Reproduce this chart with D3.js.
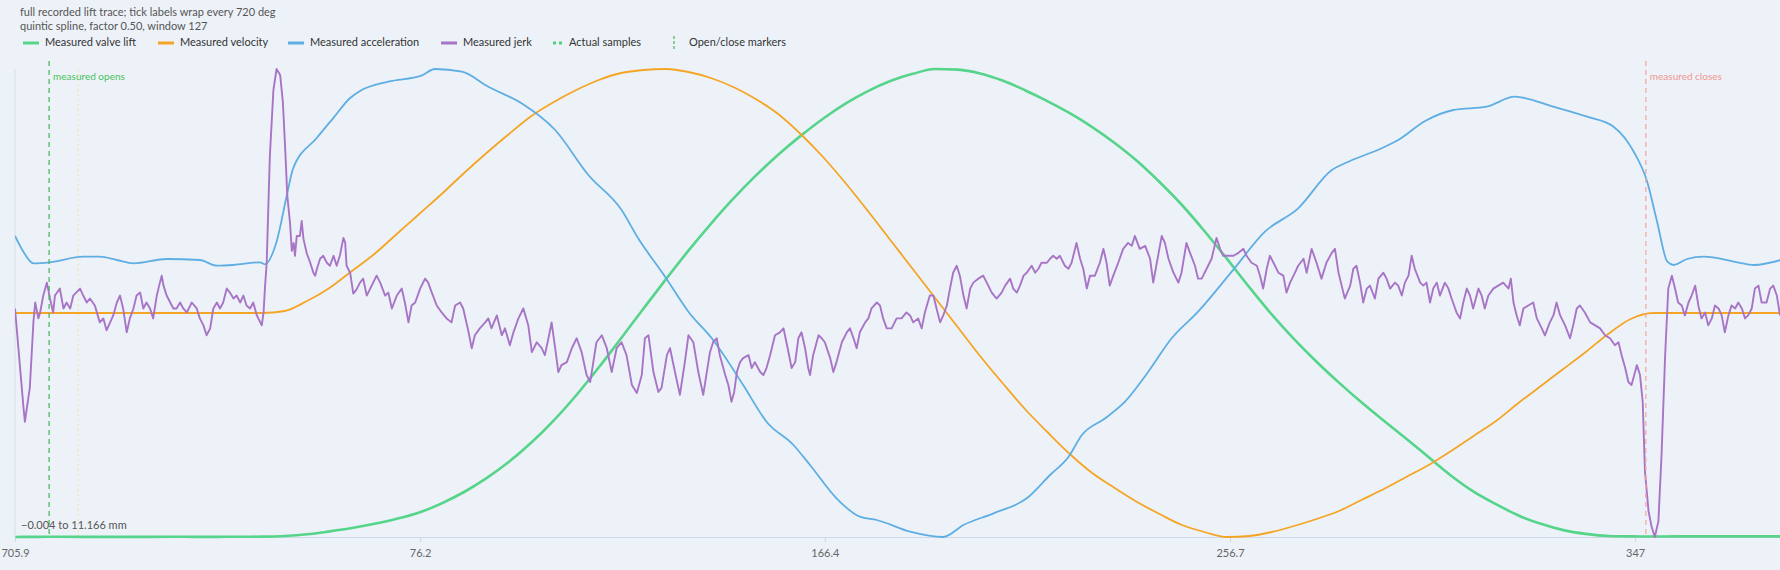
<!DOCTYPE html>
<html><head><meta charset="utf-8">
<script src="https://cdn.jsdelivr.net/npm/d3@7/dist/d3.min.js"></script>
<style>
html,body{margin:0;padding:0;background:#edf2f9;overflow:hidden;}
svg{display:block;font-family:Lato,"Segoe UI","Noto Sans",sans-serif;}
</style></head><body>
<svg id="chart" width="1780" height="570"></svg>
<script>
// ---------- data ----------
const titleLines = ["full recorded lift trace; tick labels wrap every 720 deg", "quintic spline, factor 0.50, window 127"];
const seriesNames = ["Measured valve lift", "Measured velocity", "Measured acceleration", "Measured jerk"];
const tickDeg = [705.9, 796.2, 886.4, 976.7, 1067.0];
const tickLabels = ["705.9", "76.2", "166.4", "256.7", "347"];
const openDeg = 713.5, closeDeg = 1069.4, refDeg = 720;
const xDomain = [705.9, 1099.3];

// lift (mm) and velocity on a 5-deg grid starting at 706
const gridStart = 706, gridStep = 5;
const liftMm = [
 -0.004,0.000,0.001,0.000,0.000,-0.002,0.000,0.001,0.000,0.000,
 0.002,0.005,0.02,0.06,0.13,0.21,0.31,0.43,0.58,0.80,
 1.07,1.40,1.79,2.25,2.78,3.38,4.04,4.74,5.45,6.15,
 6.83,7.47,8.07,8.62,9.12,9.57,9.98,10.34,10.64,10.88,
 11.05,11.166,11.15,11.06,10.89,10.66,10.40,10.11,9.78,9.40,
 8.97,8.47,7.92,7.30,6.64,5.96,5.31,4.72,4.18,3.68,
 3.21,2.77,2.34,1.90,1.46,1.08,0.78,0.51,0.31,0.16,
 0.07,0.02,0.01,0.008,0.01,0.012,0.01,0.012,0.01,0.01];
const velocity = [
 0,0,0,0,0,0,0,0,0,0,
 0,0,0.2,1.2,2.5,4.2,5.9,7.9,9.9,11.9,
 14.0,16.0,17.9,19.7,21.1,22.3,23.3,24.0,24.3,24.4,
 24.1,23.5,22.6,21.4,19.9,17.9,15.6,13.0,10.2,7.3,
 4.4,1.5,-1.4,-4.3,-7.0,-9.6,-11.9,-14.1,-16.0,-17.5,
 -18.9,-20.1,-21.2,-21.9,-22.4,-22.3,-21.9,-21.3,-20.6,-19.8,
 -18.7,-17.6,-16.4,-15.2,-13.8,-12.3,-10.8,-9.0,-7.3,-5.6,
 -3.9,-2.1,-0.6,0,0,0,0,0,0,0];

// acceleration [deg, value]
const accelSamples = [
 [705.9,2.8],[707.8,1.2],[710.0,0.07],[713.7,0.17],[721.1,0.73],[724.8,0.73],[728.6,0.4],[732.3,0.07],
 [739.7,0.5],[747.1,0.4],[750.9,-0.17],[754.6,-0.1],[760.5,0.17],[761.6,-0.03],[764.2,2.23],[766.5,6.9],
 [767.9,9.57],[773.1,12.57],[776.8,14.57],[780.6,16.6],[782.8,17.3],[789.1,18.23],[796.5,18.83],[799.5,19.5],
 [805.5,19.23],[811.4,17.73],[818.8,16.07],[826.3,13.4],[833.7,8.9],[841.1,5.4],[844.8,2.57],[850.8,-1.27],
 [856.0,-4.77],[861.5,-7.6],[868.2,-12.1],[873.4,-15.77],[879.4,-18.1],[883.1,-20.1],[889.0,-23.43],[894.2,-25.27],
 [898.0,-25.6],[905.4,-26.77],[912.8,-27.3],[917.3,-26.1],[924.0,-24.93],[931.4,-23.43],[936.6,-21.1],[940.7,-19.3],
 [943.7,-17.1],[948.9,-15.43],[953.3,-13.77],[958.5,-10.77],[963.7,-7.43],[969.6,-4.77],[977.1,-0.77],[984.5,3.23],
 [991.9,5.57],[999.4,9.4],[1003.1,10.23],[1010.5,11.57],[1014.2,12.4],[1020.2,14.3],[1026.5,15.4],[1033.9,15.73],
 [1040.2,16.73],[1048.8,15.73],[1056.3,14.73],[1062.2,13.73],[1066.7,11.23],[1069.7,8.23],[1071.9,4.23],[1074.2,0.23],
 [1075.6,-0.1],[1078.6,0.5],[1082.3,0.73],[1089.8,0.17],[1093.5,-0.1],[1099.5,0.4]];

// jerk [deg, value]
const jerkSamples = [
 [705.9,-0.3],[707.8,-10.3],[708.1,-11.7],[709.2,-8.3],[710.0,-1.7],[710.4,0.3],[711.1,-1.3],[711.5,-0.7],
 [712.2,1.0],[713.0,2.3],[713.7,0.7],[714.4,-0.7],[714.8,1.0],[715.9,1.7],[716.7,-0.3],[717.4,0.3],
 [718.2,-0.3],[718.9,1.0],[720.4,1.7],[721.1,1.0],[721.9,0.3],[722.6,0.7],[723.7,0.0],[724.8,-1.7],
 [725.6,-1.3],[726.3,-2.5],[727.1,-1.7],[727.8,-1.0],[728.6,0.3],[729.3,1.0],[730.0,-0.3],[730.8,-2.7],
 [731.5,-1.3],[732.3,-0.3],[733.0,1.0],[733.8,1.3],[734.5,-0.3],[735.2,0.3],[736.0,-0.3],[736.7,-1.3],
 [737.5,1.0],[738.2,2.3],[738.6,3.0],[739.0,2.0],[739.7,1.0],[740.5,0.3],[741.2,-0.3],[741.9,-0.3],
 [742.7,0.3],[743.4,-0.3],[744.2,-0.7],[745.3,0.3],[746.4,-0.3],[747.1,-1.3],[747.9,-2.0],[748.6,-3.0],
 [749.4,-2.3],[750.1,-0.3],[750.9,0.3],[751.6,-0.3],[752.3,0.3],[753.1,1.7],[753.8,1.3],[754.6,0.7],
 [755.3,1.0],[756.1,0.3],[756.8,1.0],[757.5,0.0],[758.3,-0.3],[759.0,0.3],[759.8,-1.0],[760.9,-2.0],
 [761.3,-0.7],[761.6,1.7],[762.0,4.3],[762.7,15.0],[763.5,21.7],[764.2,23.8],[765.0,23.2],[765.6,20.5],
 [766.1,16.0],[766.6,11.0],[767.2,8.3],[767.6,5.5],[768.0,6.3],[768.3,5.0],[768.7,7.0],[769.4,7.0],
 [769.8,8.5],[770.2,6.7],[770.9,5.3],[771.7,4.3],[772.4,3.3],[772.8,3.0],[773.2,3.7],[773.9,4.7],
 [774.6,5.0],[775.4,4.3],[776.1,4.0],[776.9,5.0],[777.6,4.0],[778.3,5.0],[779.1,6.8],[779.5,6.3],
 [779.8,4.0],[780.6,3.3],[781.3,1.2],[782.0,1.6],[782.8,2.3],[783.5,2.7],[784.3,1.0],[785.4,2.0],
 [786.5,3.0],[787.3,2.3],[788.4,1.0],[789.1,1.3],[789.9,-0.3],[791.0,1.0],[792.1,1.7],[792.8,0.3],
 [793.6,-1.7],[794.3,0.0],[795.1,0.3],[796.2,1.7],[797.3,2.7],[798.0,2.3],[798.8,1.3],[799.9,0.0],
 [801.0,-0.7],[802.1,-1.3],[803.2,-1.7],[804.0,0.0],[805.1,0.3],[805.8,-0.3],[807.0,-2.7],[807.7,-4.3],
 [808.4,-3.0],[809.5,-2.3],[810.7,-1.7],[811.4,-1.3],[812.1,-2.3],[813.3,-1.0],[814.4,-3.0],[815.1,-2.3],
 [816.2,-4.0],[817.0,-2.7],[818.1,-1.3],[819.2,-0.3],[820.3,-2.0],[821.1,-4.7],[822.2,-3.7],[823.3,-4.3],
 [824.0,-5.0],[824.8,-3.3],[825.5,-1.7],[826.3,-4.3],[827.0,-6.7],[827.7,-6.0],[828.9,-5.7],[830.0,-4.3],
 [831.1,-3.3],[832.2,-4.7],[833.3,-7.0],[834.1,-7.7],[834.8,-5.7],[835.5,-3.7],[836.7,-3.0],[837.8,-4.3],
 [838.9,-6.7],[840.0,-4.3],[841.1,-3.7],[842.2,-5.0],[843.4,-8.0],[844.5,-8.8],[845.6,-7.0],[846.3,-3.3],
 [847.1,-3.0],[848.2,-6.7],[849.3,-8.7],[850.0,-8.3],[851.2,-5.0],[851.9,-4.3],[853.0,-6.7],[854.1,-9.0],
 [855.2,-5.7],[856.0,-3.0],[857.1,-3.7],[858.2,-6.7],[859.3,-9.0],[860.8,-4.7],[861.5,-3.7],[862.3,-3.3],
 [863.0,-5.0],[864.2,-7.0],[864.9,-8.0],[865.6,-9.7],[866.2,-8.7],[866.8,-6.7],[867.5,-5.7],[868.2,-5.3],
 [869.4,-5.0],[870.1,-6.3],[870.8,-5.7],[872.0,-6.7],[872.7,-7.0],[873.4,-6.3],[874.2,-5.0],[875.3,-3.0],
 [876.4,-2.7],[877.2,-2.3],[878.3,-4.7],[879.0,-6.3],[879.8,-5.7],[880.5,-3.3],[881.2,-2.7],[882.0,-4.3],
 [882.7,-6.3],[883.1,-7.0],[883.8,-5.0],[885.0,-3.0],[885.7,-3.3],[886.4,-3.7],[887.6,-5.3],[888.3,-6.7],
 [889.0,-5.7],[890.2,-3.7],[891.3,-2.7],[892.0,-2.3],[892.8,-3.3],[893.5,-4.3],[894.2,-2.7],[895.4,-1.7],
 [896.1,-1.3],[896.8,-0.3],[898.0,0.3],[898.7,0.0],[899.4,-1.3],[900.2,-2.3],[901.3,-2.3],[902.4,-1.3],
 [903.5,-1.3],[904.6,-0.7],[905.4,-1.0],[906.1,-1.7],[907.2,-1.3],[908.0,-2.3],[908.7,-0.7],[909.8,1.0],
 [910.6,1.0],[911.3,-0.3],[912.1,-1.7],[912.8,-1.0],[913.6,0.0],[914.3,1.7],[915.0,3.3],[915.8,4.0],
 [916.5,3.0],[917.3,1.0],[918.0,-0.3],[918.8,1.7],[919.5,2.3],[920.6,2.7],[921.7,3.0],[922.5,2.3],
 [923.6,1.3],[924.7,0.7],[925.8,1.3],[926.6,2.0],[927.7,2.7],[928.4,1.7],[929.2,1.3],[929.9,2.0],
 [930.7,3.0],[931.4,3.3],[932.5,4.0],[933.3,3.3],[934.0,3.7],[934.7,4.3],[935.9,4.3],[936.6,4.7],
 [937.3,5.0],[938.1,4.7],[938.8,5.0],[939.9,4.0],[940.7,3.7],[941.4,4.3],[942.5,6.3],[943.3,4.7],
 [944.0,3.7],[944.8,1.7],[945.5,3.0],[946.6,3.0],[947.7,4.3],[948.5,5.7],[949.2,4.3],[949.9,2.0],
 [950.7,3.0],[951.8,4.3],[952.9,5.7],[954.0,6.3],[954.8,6.0],[955.5,7.0],[956.6,5.7],[957.8,6.0],
 [958.9,4.7],[959.6,2.3],[960.4,4.3],[961.5,7.0],[962.2,6.3],[963.0,4.7],[964.1,3.3],[965.2,2.3],
 [965.9,3.3],[967.0,6.3],[967.8,5.3],[968.9,4.0],[969.6,2.7],[970.4,2.7],[971.5,3.7],[972.6,4.7],
 [973.7,6.8],[974.5,5.7],[975.2,5.0],[976.3,5.0],[977.5,5.0],[978.6,5.3],[979.7,5.7],[980.4,5.0],
 [981.5,4.3],[982.7,4.0],[983.4,3.0],[984.1,1.7],[984.9,3.7],[985.6,5.0],[986.4,4.3],[987.5,3.3],
 [988.6,3.0],[989.3,1.3],[990.1,2.3],[991.2,3.3],[991.9,4.0],[993.1,4.7],[993.8,3.3],[994.9,5.7],
 [996.0,4.3],[997.1,2.7],[998.2,4.3],[999.4,5.3],[1000.1,5.7],[1000.9,3.3],[1001.6,2.0],[1002.3,0.7],
 [1003.5,2.0],[1004.2,3.7],[1004.9,4.0],[1005.7,2.3],[1006.4,0.3],[1007.2,1.7],[1007.9,2.0],[1009.0,0.7],
 [1009.8,2.7],[1010.9,3.3],[1011.6,2.7],[1012.4,1.7],[1013.5,2.3],[1014.2,2.0],[1015.0,1.0],[1015.7,2.3],
 [1016.5,3.0],[1017.2,5.0],[1017.9,3.7],[1019.1,2.3],[1019.8,2.0],[1020.5,2.3],[1021.3,0.3],[1022.0,1.7],
 [1022.8,2.3],[1023.5,1.0],[1024.6,2.3],[1025.4,1.7],[1026.1,0.7],[1027.2,-0.7],[1028.0,-1.3],[1028.7,0.3],
 [1029.5,1.7],[1030.2,1.0],[1030.9,-0.3],[1032.1,1.7],[1032.8,1.0],[1033.5,-0.3],[1034.3,1.0],[1035.4,1.7],
 [1036.5,2.0],[1037.6,2.3],[1038.8,1.7],[1039.3,2.7],[1039.9,0.3],[1040.6,-1.0],[1041.3,-2.0],[1042.1,-0.3],
 [1043.2,0.0],[1044.3,0.3],[1045.1,-1.3],[1046.2,-2.3],[1046.9,-3.0],[1048.0,-1.7],[1048.8,-1.0],[1049.5,0.3],
 [1050.3,-1.0],[1051.4,-2.0],[1052.5,-3.3],[1053.2,-2.0],[1054.0,-0.3],[1054.7,0.0],[1055.8,-0.7],[1057.0,-1.7],
 [1058.1,-2.0],[1059.2,-2.3],[1060.3,-3.0],[1061.4,-3.3],[1062.5,-4.0],[1063.3,-3.7],[1064.0,-5.0],[1064.8,-6.3],
 [1065.5,-7.7],[1066.2,-8.0],[1067.0,-6.7],[1067.4,-6.0],[1068.1,-7.0],[1068.7,-9.7],[1069.2,-16.7],[1070.0,-20.7],
 [1070.7,-22.3],[1071.4,-23.3],[1072.2,-21.7],[1072.9,-15.0],[1073.7,-5.0],[1074.4,1.7],[1075.2,3.0],[1075.9,1.7],
 [1076.6,0.3],[1077.4,0.0],[1078.1,-1.0],[1078.9,0.3],[1079.6,1.0],[1080.4,2.0],[1081.1,0.0],[1081.8,-1.3],
 [1082.6,-0.7],[1083.3,-2.0],[1084.1,-1.3],[1084.8,0.0],[1085.6,-0.3],[1086.3,-1.0],[1087.0,-2.7],[1087.8,-1.0],
 [1088.5,0.0],[1089.3,-0.3],[1090.0,0.3],[1090.8,-0.3],[1091.5,-1.3],[1092.2,-1.0],[1093.0,-0.3],[1093.7,1.7],
 [1094.5,2.0],[1095.2,0.3],[1096.3,0.3],[1097.1,1.7],[1097.8,2.0],[1098.6,1.0],[1099.3,-1.0]];

// ---------- chart ----------
const W = 1780, H = 570;
const plot = {left: 15, right: 1780, top: 69, bottom: 537};
const colors = {lift: "#55d48a", vel: "#f5a524", acc: "#5eaee3", jerk: "#a874c6"};

const svg = d3.select("#chart");
svg.append("rect").attr("width", W).attr("height", H).attr("fill", "#edf2f9");

const x = d3.scaleLinear().domain(xDomain).range([plot.left, plot.right]);
const yFor = vals => d3.scaleLinear().domain(d3.extent(vals)).range([plot.bottom, plot.top]);

const gridDeg = liftMm.map((_, i) => gridStart + i * gridStep);
const liftData = gridDeg.map((d, i) => [d, liftMm[i]]);
const velData = gridDeg.map((d, i) => [d, velocity[i]]);

const yLift = yFor(liftMm);
const yVel = yFor(velocity);
const yAcc = yFor(accelSamples.map(d => d[1]));
const yJerk = yFor(jerkSamples.map(d => d[1]));

svg.append("clipPath").attr("id", "clip").append("rect")
  .attr("x", plot.left).attr("y", 0).attr("width", plot.right - plot.left).attr("height", H);

// left faint axis line
svg.append("line").attr("x1", plot.left).attr("x2", plot.left)
  .attr("y1", plot.top).attr("y2", plot.bottom).attr("stroke", "#d6dee9").attr("stroke-width", 1);

// x axis
const xAxis = d3.axisBottom(x).tickValues(tickDeg).tickFormat((d, i) => tickLabels[i]).tickSize(5).tickPadding(7);
const gx = svg.append("g").attr("transform", `translate(0,${plot.bottom})`).call(xAxis);
gx.select(".domain").attr("stroke", "#cfd8e6");
gx.selectAll(".tick line").attr("stroke", "#cfd8e6");
gx.selectAll(".tick text").attr("fill", "#666").style("font-size", "11px").style("font-family", "Lato, 'Segoe UI', sans-serif");

// reference faint dotted line
svg.append("line").attr("x1", x(refDeg)).attr("x2", x(refDeg)).attr("y1", plot.top).attr("y2", plot.bottom)
  .attr("stroke", "#f1dfae").attr("stroke-width", 1).attr("stroke-dasharray", "2,3");

const g = svg.append("g").attr("clip-path", "url(#clip)");
const mkLine = (ys, curve) => d3.line().x(d => x(d[0])).y(d => ys(d[1])).curve(curve);

g.append("path").datum(liftData).attr("d", mkLine(yLift, d3.curveMonotoneX))
  .attr("fill", "none").attr("stroke", colors.lift).attr("stroke-width", 2.6);
g.append("path").datum(velData).attr("d", mkLine(yVel, d3.curveMonotoneX))
  .attr("fill", "none").attr("stroke", colors.vel).attr("stroke-width", 1.8);
g.append("path").datum(accelSamples).attr("d", mkLine(yAcc, d3.curveMonotoneX))
  .attr("fill", "none").attr("stroke", colors.acc).attr("stroke-width", 1.8);
g.append("path").datum(jerkSamples).attr("d", mkLine(yJerk, d3.curveLinear))
  .attr("fill", "none").attr("stroke", colors.jerk).attr("stroke-width", 1.9).attr("stroke-linejoin", "round");

// open / close markers
svg.append("line").attr("x1", x(openDeg)).attr("x2", x(openDeg)).attr("y1", plot.top - 8).attr("y2", plot.bottom)
  .attr("stroke", "#3fb553").attr("stroke-width", 1.2).attr("stroke-dasharray", "5,4");
svg.append("text").attr("x", x(openDeg) + 4).attr("y", 77).attr("dominant-baseline", "middle")
  .attr("fill", "#49c25c").style("font-size", "10px").text("measured opens");
svg.append("line").attr("x1", x(closeDeg)).attr("x2", x(closeDeg)).attr("y1", plot.top - 8).attr("y2", plot.bottom)
  .attr("stroke", "#f4a29c").attr("stroke-width", 1.2).attr("stroke-dasharray", "5,4");
svg.append("text").attr("x", x(closeDeg) + 4).attr("y", 77).attr("dominant-baseline", "middle")
  .attr("fill", "#f2958e").style("font-size", "10px").text("measured closes");

// lift range label
const f3 = d3.format(".3f");
svg.append("text").attr("x", 21).attr("y", 526).attr("dominant-baseline", "middle")
  .attr("fill", "#555").style("font-size", "11px")
  .text(`${f3(d3.min(liftMm))} to ${f3(d3.max(liftMm))} mm`);

// title
titleLines.forEach((t, i) => {
  svg.append("text").attr("x", 20).attr("y", 13 + i * 14).attr("dominant-baseline", "middle")
    .attr("fill", "#555").style("font-size", "11px").text(t);
});

// legend
const lg = svg.append("g");
const legY = 43;
const swX = [23, 158, 288, 441];
const sCols = [colors.lift, colors.vel, colors.acc, colors.jerk];
seriesNames.forEach((n, i) => {
  lg.append("line").attr("x1", swX[i]).attr("x2", swX[i] + 16).attr("y1", legY).attr("y2", legY)
    .attr("stroke", sCols[i]).attr("stroke-width", 3);
  lg.append("text").attr("x", swX[i] + 22).attr("y", legY).attr("dominant-baseline", "middle")
    .attr("fill", "#333").style("font-size", "11px").text(n);
});
[553, 559].forEach(px => lg.append("rect").attr("x", px).attr("y", legY - 1.5).attr("width", 3).attr("height", 3).attr("fill", "#4cd07d"));
lg.append("text").attr("x", 569).attr("y", legY).attr("dominant-baseline", "middle")
  .attr("fill", "#333").style("font-size", "11px").text("Actual samples");
lg.append("line").attr("x1", 674).attr("x2", 674).attr("y1", legY - 7).attr("y2", legY + 7)
  .attr("stroke", "#3fb553").attr("stroke-width", 1.2).attr("stroke-dasharray", "3,2");
lg.append("text").attr("x", 689).attr("y", legY).attr("dominant-baseline", "middle")
  .attr("fill", "#333").style("font-size", "11px").text("Open/close markers");
</script>
</body></html>
